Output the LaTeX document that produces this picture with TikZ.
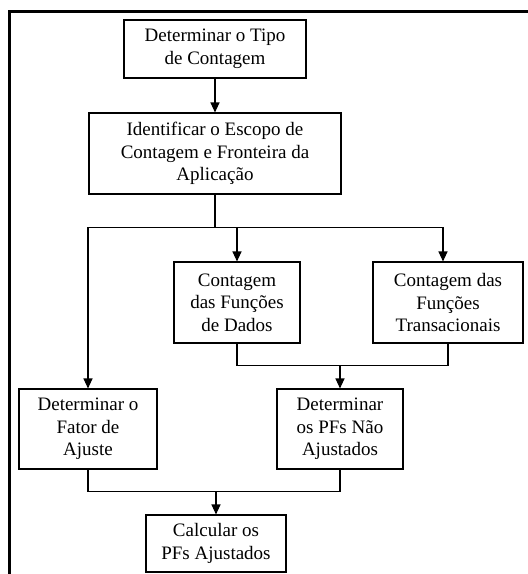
\documentclass[tikz,border=0pt]{standalone}
\usepackage{fontspec}
\setmainfont{Liberation Serif}
\usetikzlibrary{arrows.meta,calc}

\begin{document}
\begin{tikzpicture}[
  x=1pt, y=-1pt,
  box/.style={draw, line width=1.1pt, align=center, inner sep=2pt, font=\fontsize{19}{22.5}\selectfont},
  arr/.style={-{Triangle[length=10pt,width=9pt]}, line width=1.1pt},
  link/.style={line width=1.1pt}
]
\useasboundingbox (0,0) rectangle (528,574);
\draw[line width=3pt] (9.5,574) -- (9.5,11.5) -- (528,11.5);

\node[box, minimum width=182pt, minimum height=58pt] (tipo) at (215,49) {Determinar o Tipo\\de Contagem};
\node[box, minimum width=252pt, minimum height=81pt] (escopo) at (215,153.5) {Identificar o Escopo de\\Contagem e Fronteira da\\Aplicação};
\node[box, minimum width=126pt, minimum height=81pt] (dados) at (237,302.5) {Contagem\\das Funções\\de Dados};
\node[box, minimum width=150pt, minimum height=81pt] (trans) at (448,302.5) {Contagem das\\Funções\\Transacionais};
\node[box, minimum width=138pt, minimum height=80pt] (fator) at (88,429) {Determinar o\\Fator de\\Ajuste};
\node[box, minimum width=126pt, minimum height=80pt] (pfs) at (340,429) {Determinar\\os PFs Não\\Ajustados};
\node[box, minimum width=140pt, minimum height=57pt] (calc) at (216,543.5) {Calcular os\\PFs Ajustados};

\coordinate (split) at ($(escopo.south)+(0,33)$);
\coordinate (merge) at ($(pfs.north)+(0,-23)$);
\coordinate (final) at ($(calc.north)+(0,-23)$);

\draw[arr] (tipo) -- (escopo);
\draw[link] (escopo.south) -- (split);
\draw[arr] (split) -| (fator.north);
\draw[arr] (split) -| (dados.north);
\draw[arr] (split) -| ([xshift=-5pt]trans.north);
\draw[link] (dados.south) |- (merge) -| (trans.south);
\draw[arr] (merge) -- (pfs.north);
\draw[link] (fator.south) |- (final) -| (pfs.south);
\draw[arr] (final) -- (calc.north);
\end{tikzpicture}
\end{document}
